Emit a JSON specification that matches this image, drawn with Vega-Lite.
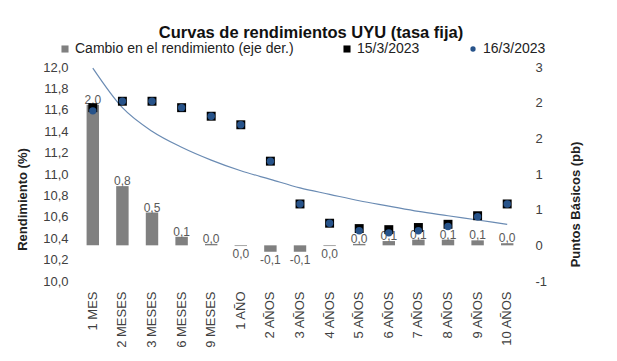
{
  "$schema": "https://vega.github.io/schema/vega-lite/v6.json",
  "width": 444,
  "height": 214,
  "autosize": {"type": "none"},
  "padding": {"left": 78, "top": 67, "right": 95, "bottom": 80},
  "background": "white",
  "title": {
    "text": "Curvas de rendimientos UYU (tasa fija)",
    "font": "Liberation Sans",
    "fontSize": 16.5,
    "fontWeight": "bold",
    "color": "#111111",
    "anchor": "middle",
    "frame": "group",
    "dx": 11,
    "dy": 1,
    "offset": 2
  },
  "config": {
    "locale": {"number": {"decimal": ",", "thousands": ".", "grouping": [3], "currency": ["", ""], "minus": "-"}},
    "view": {"stroke": null},
    "font": "Liberation Sans",
    "axis": {"grid": false, "domain": false, "ticks": false, "tickSize": 0, "labelOverlap": false, "labelFont": "Liberation Sans", "titleFont": "Liberation Sans", "labelColor": "#404040", "titleColor": "#222222", "labelFontSize": 13, "titleFontSize": 13, "titleFontWeight": "bold"}
  },
  "data": {
    "values": [
      {"plazo": "1 MES", "r15": 11.62, "r16": 11.59, "cambio": 1.97, "tend": 11.99},
      {"plazo": "2 MESES", "r15": 11.68, "r16": 11.68, "cambio": 0.83, "tend": 11.62},
      {"plazo": "3 MESES", "r15": 11.68, "r16": 11.68, "cambio": 0.46, "tend": 11.40},
      {"plazo": "6 MESES", "r15": 11.62, "r16": 11.62, "cambio": 0.12, "tend": 11.25},
      {"plazo": "9 MESES", "r15": 11.54, "r16": 11.54, "cambio": 0.02, "tend": 11.13},
      {"plazo": "1 AÑO", "r15": 11.46, "r16": 11.46, "cambio": -0.01, "tend": 11.03},
      {"plazo": "2 AÑOS", "r15": 11.12, "r16": 11.12, "cambio": -0.09, "tend": 10.95},
      {"plazo": "3 AÑOS", "r15": 10.72, "r16": 10.72, "cambio": -0.09, "tend": 10.87},
      {"plazo": "4 AÑOS", "r15": 10.54, "r16": 10.54, "cambio": -0.01, "tend": 10.81},
      {"plazo": "5 AÑOS", "r15": 10.49, "r16": 10.47, "cambio": 0.02, "tend": 10.75},
      {"plazo": "6 AÑOS", "r15": 10.48, "r16": 10.45, "cambio": 0.06, "tend": 10.70},
      {"plazo": "7 AÑOS", "r15": 10.50, "r16": 10.47, "cambio": 0.08, "tend": 10.65},
      {"plazo": "8 AÑOS", "r15": 10.53, "r16": 10.51, "cambio": 0.08, "tend": 10.61},
      {"plazo": "9 AÑOS", "r15": 10.61, "r16": 10.60, "cambio": 0.07, "tend": 10.57},
      {"plazo": "10 AÑOS", "r15": 10.72, "r16": 10.72, "cambio": 0.03, "tend": 10.53}
    ]
  },
  "encoding": {
    "x": {
      "field": "plazo", "type": "nominal", "sort": null,
      "scale": {"paddingInner": 0, "paddingOuter": 0},
      "axis": {"title": null, "labelAngle": -90, "labelPadding": 10, "labelFontSize": 13}
    }
  },
  "layer": [
    {
      "layer": [
        {
          "mark": {"type": "bar", "width": {"band": 0.42}},
          "encoding": {
            "y": {"field": "cambio", "type": "quantitative",
              "scale": {"domain": [-0.5, 2.5], "nice": false, "zero": false},
              "axis": {"orient": "right", "title": "Puntos Básicos (pb)", "titleAngle": 270, "titlePadding": 36, "titleY": 137, "labelPadding": 13, "labelOverlap": false, "tickCount": 20,
                "values": [-0.5, 0, 0.5, 1, 1.5, 2, 2.5],
                "labelExpr": "datum.value < 0 ? '-' + format(round(-datum.value), 'd') : format(round(datum.value), 'd')"}},
            "color": {"datum": "Cambio en el rendimiento (eje der.)", "type": "nominal",
              "scale": {"domain": ["Cambio en el rendimiento (eje der.)", "15/3/2023", "16/3/2023"], "range": ["#808080", "#000000", "#27538A"]},
              "legend": {
                "title": null, "orient": "none", "legendX": -20, "legendY": -25, "direction": "horizontal",
                "columnPadding": 46, "labelFontSize": 14, "labelFont": "Liberation Sans", "labelColor": "#222222", "labelOffset": 3, "labelLimit": 0,
                "symbolSize": 50, "symbolStrokeWidth": 0,
                "encode": {"symbols": {"update": {
                  "shape": {"signal": "datum.value === '16/3/2023' ? 'circle' : 'square'"},
                  "size": {"signal": "datum.value === '16/3/2023' ? 28 : 50"}
                }}}
              }}
          }
        },
        {
          "transform": [{"filter": "datum.cambio >= 0"}],
          "mark": {"type": "text", "baseline": "alphabetic", "dy": -1, "fontSize": 12, "color": "#595959"},
          "encoding": {
            "y": {"field": "cambio", "type": "quantitative"},
            "text": {"field": "cambio", "type": "quantitative", "format": ".1f"}
          }
        },
        {
          "transform": [{"filter": "datum.cambio < 0"}],
          "mark": {"type": "text", "baseline": "top", "dy": 3, "fontSize": 12, "color": "#595959"},
          "encoding": {
            "y": {"field": "cambio", "type": "quantitative"},
            "text": {"field": "cambio", "type": "quantitative", "format": ".1f"}
          }
        }
      ]
    },
    {
      "layer": [
        {
          "mark": {"type": "line", "interpolate": "monotone", "color": "#6A8BB3", "strokeWidth": 1.2},
          "encoding": {
            "y": {"field": "tend", "type": "quantitative"}
          }
        },
        {
          "mark": {"type": "square", "size": 80, "opacity": 1},
          "encoding": {
            "y": {"field": "r15", "type": "quantitative",
              "scale": {"domain": [10, 12], "nice": false, "zero": false},
              "axis": {"orient": "left", "title": "Rendimiento (%)", "titlePadding": 13, "titleY": 132, "labelPadding": 10, "labelOverlap": false, "tickCount": 20,
                "values": [10, 10.2, 10.4, 10.6, 10.8, 11, 11.2, 11.4, 11.6, 11.8, 12], "format": ".1f"}},
            "color": {"datum": "15/3/2023", "type": "nominal"}
          }
        },
        {
          "mark": {"type": "circle", "size": 55, "opacity": 1},
          "encoding": {
            "y": {"field": "r16", "type": "quantitative"},
            "color": {"datum": "16/3/2023", "type": "nominal"}
          }
        }
      ]
    }
  ],
  "resolve": {"scale": {"y": "independent"}}
}
